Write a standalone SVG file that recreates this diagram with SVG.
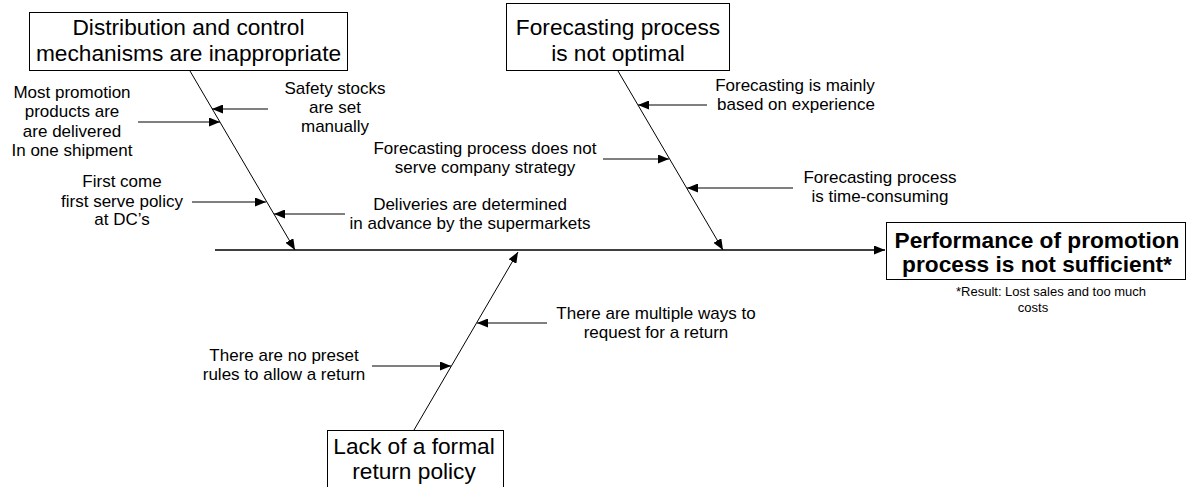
<svg xmlns="http://www.w3.org/2000/svg" width="1187" height="487" viewBox="0 0 1187 487">
  <style>
    text { font-family: "Liberation Sans", Arial, sans-serif; fill: #000; text-anchor: middle; }
    .big { font-size: 22.7px; }
    .bold { font-size: 22.7px; font-weight: bold; }
    .sm { font-size: 17px; }
    .note { font-size: 13px; }
    .box { fill: #fff; stroke: #000; stroke-width: 1; }
    .ln { stroke: #000; stroke-width: 1; fill: none; marker-end: url(#arr); }
    .spine { stroke: #000; stroke-width: 1.3; fill: none; marker-end: url(#arr); }
  </style>
  <defs>
    <marker id="arr" markerUnits="userSpaceOnUse" markerWidth="11" markerHeight="9" refX="11" refY="4.5" orient="auto">
      <path d="M0,0 L11,4.5 L0,9 z" fill="#000"/>
    </marker>
  </defs>
  <rect width="1187" height="487" fill="#fff"/>

  <!-- connectors: spine, main bones and cause arrows -->
  <g id="connectors">
    <line class="spine" x1="215" y1="250" x2="885" y2="250"/>
    <line class="ln" x1="190" y1="71" x2="295" y2="250"/>
    <line class="ln" x1="618" y1="71" x2="723" y2="250"/>
    <line class="ln" x1="414" y1="430" x2="518" y2="252"/>
    <!-- distribution bone -->
    <line class="ln" x1="268" y1="109" x2="212" y2="109"/>
    <line class="ln" x1="138" y1="122" x2="220" y2="122"/>
    <line class="ln" x1="192" y1="202" x2="266" y2="202"/>
    <line class="ln" x1="345" y1="214" x2="274" y2="214"/>
    <!-- forecasting bone -->
    <line class="ln" x1="707" y1="105" x2="638" y2="105"/>
    <line class="ln" x1="603" y1="159" x2="669" y2="159"/>
    <line class="ln" x1="793" y1="188" x2="687" y2="188"/>
    <!-- return policy bone -->
    <line class="ln" x1="547" y1="323" x2="477" y2="323"/>
    <line class="ln" x1="372" y1="366" x2="451" y2="366"/>
  </g>

  <g id="distribution">
    <rect class="box" x="29.5" y="12.5" width="318" height="58"/>
    <text class="big" x="188.5" y="35">Distribution and control</text>
    <text class="big" x="188.5" y="61">mechanisms are inappropriate</text>
  </g>

  <g id="forecasting">
    <rect class="box" x="506.5" y="3.5" width="223" height="67"/>
    <text class="big" x="618" y="35">Forecasting process</text>
    <text class="big" x="618" y="61">is not optimal</text>
  </g>

  <g id="return-policy">
    <rect class="box" x="327.5" y="430.5" width="176" height="70"/>
    <text class="big" x="414" y="454">Lack of a formal</text>
    <text class="big" x="414" y="479">return policy</text>
  </g>

  <g id="effect">
    <rect class="box" x="886.5" y="222.5" width="299" height="57"/>
    <text class="bold" x="1037" y="248">Performance of promotion</text>
    <text class="bold" x="1037" y="272">process is not sufficient*</text>
    <text class="note" x="1051" y="296">*Result: Lost sales and too much</text>
    <text class="note" x="1033" y="312">costs</text>
  </g>

  <g id="cause-safety-stocks">
    <text class="sm" x="335" y="94">Safety stocks</text>
    <text class="sm" x="335" y="113">are set</text>
    <text class="sm" x="335" y="132">manually</text>
  </g>

  <g id="cause-one-shipment">
    <text class="sm" x="72" y="98">Most promotion</text>
    <text class="sm" x="72" y="117">products are</text>
    <text class="sm" x="72" y="137">are delivered</text>
    <text class="sm" x="72" y="156">In one shipment</text>
  </g>

  <g id="cause-first-come">
    <text class="sm" x="122" y="187">First come</text>
    <text class="sm" x="122" y="207">first serve policy</text>
    <text class="sm" x="122" y="225">at DC’s</text>
  </g>

  <g id="cause-deliveries">
    <text class="sm" x="470" y="210">Deliveries are determined</text>
    <text class="sm" x="470" y="229">in advance by the supermarkets</text>
  </g>

  <g id="cause-experience">
    <text class="sm" x="795" y="91">Forecasting is mainly</text>
    <text class="sm" x="796" y="110">based on experience</text>
  </g>

  <g id="cause-strategy">
    <text class="sm" x="485" y="154">Forecasting process does not</text>
    <text class="sm" x="485" y="173">serve company strategy</text>
  </g>

  <g id="cause-time">
    <text class="sm" x="880" y="183">Forecasting process</text>
    <text class="sm" x="880" y="202">is time-consuming</text>
  </g>

  <g id="cause-request-ways">
    <text class="sm" x="656" y="319">There are multiple ways to</text>
    <text class="sm" x="656" y="338">request for a return</text>
  </g>

  <g id="cause-preset-rules">
    <text class="sm" x="284" y="361">There are no preset</text>
    <text class="sm" x="284" y="380">rules to allow a return</text>
  </g>
</svg>
